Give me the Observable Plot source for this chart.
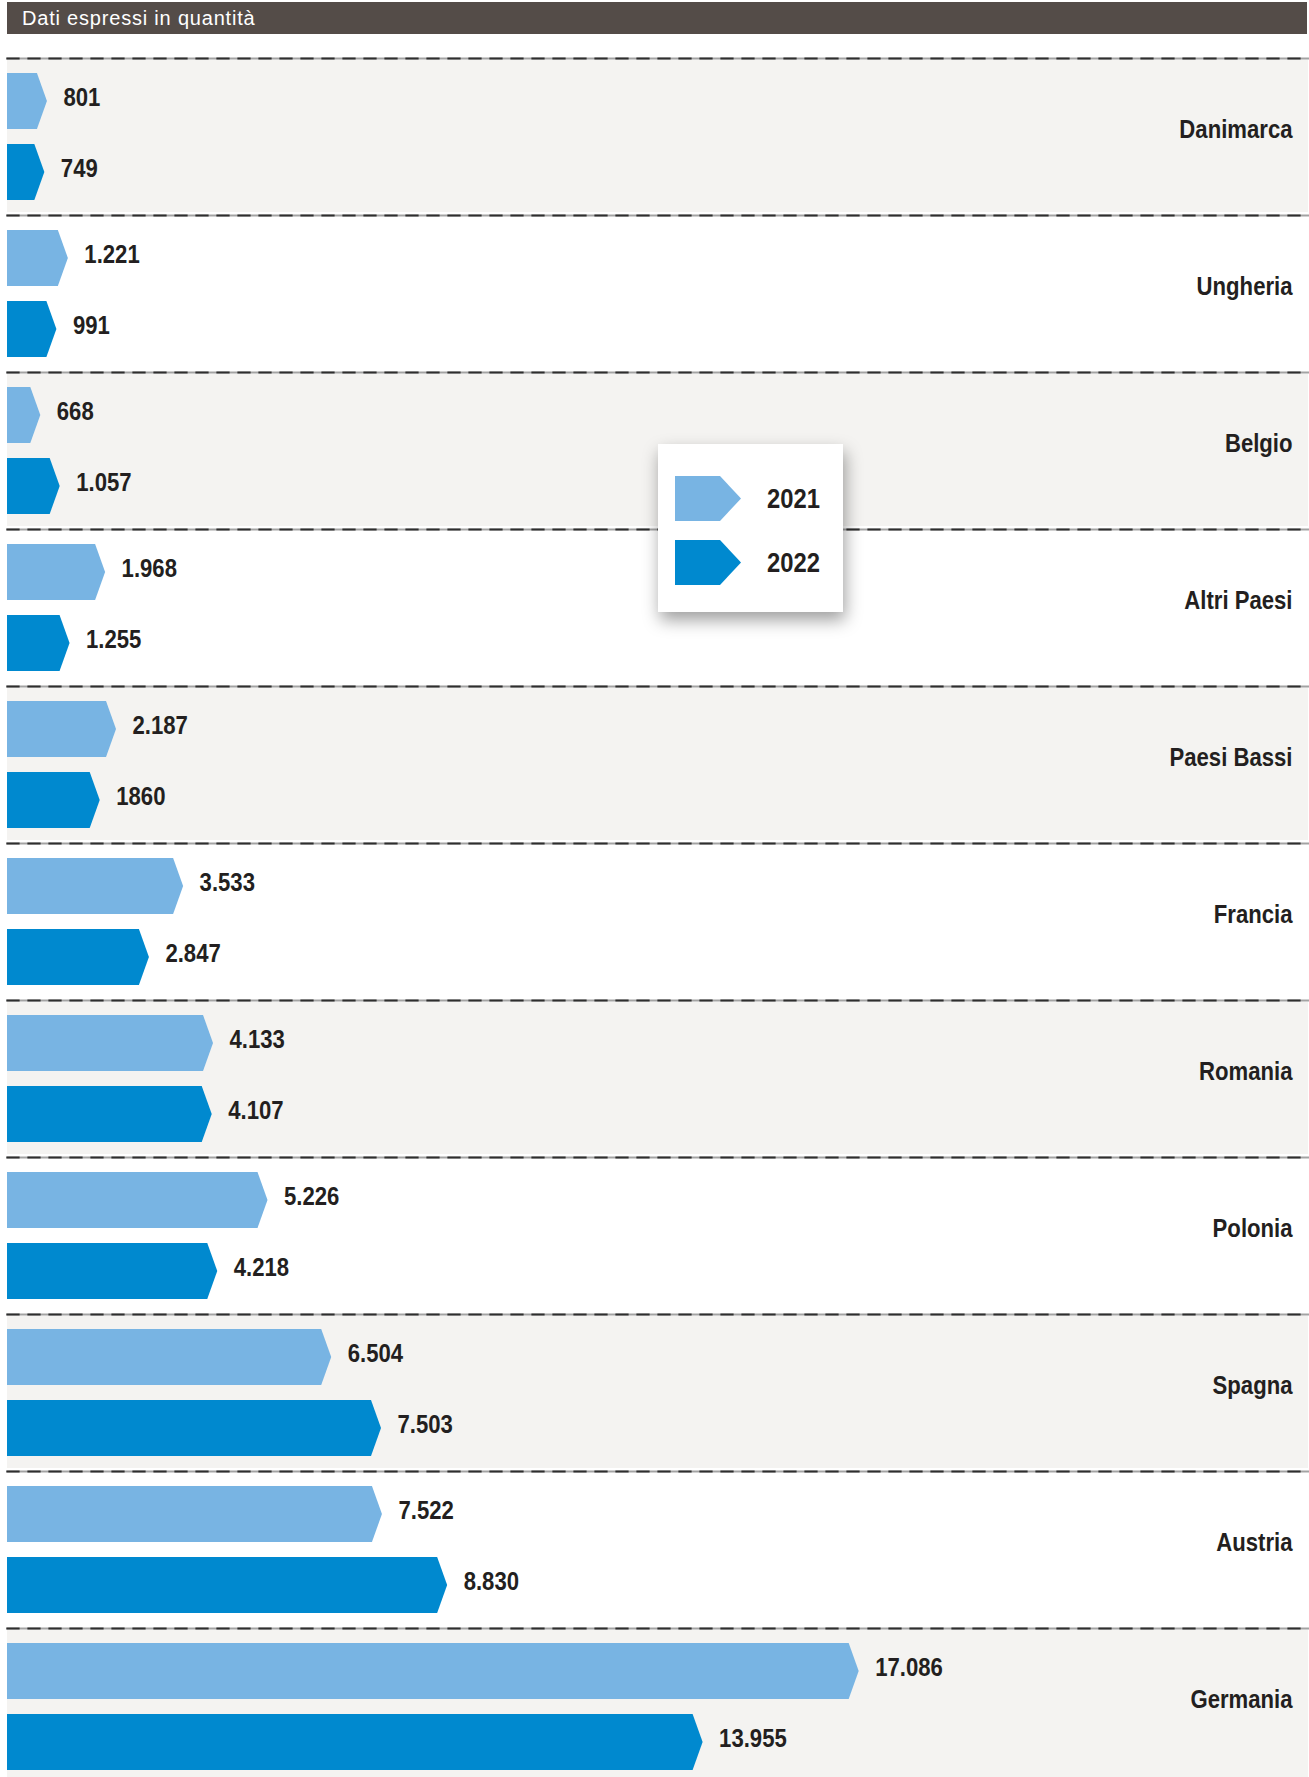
<!DOCTYPE html>
<html>
<head>
<meta charset="utf-8">
<script src="https://cdn.jsdelivr.net/npm/d3@7"></script>
<script src="https://cdn.jsdelivr.net/npm/@observablehq/plot@0.6"></script>
<style>
  html, body { margin: 0; padding: 0; background: #fff; overflow: hidden; }
  #wrap { position: relative; width: 1309px; height: 1777px; overflow: hidden; }
  #header { position: absolute; left: 7px; top: 2px; width: 1300px; height: 32px; background: #544c48; color: #fff;
            font-family: "Liberation Sans", Arial, Helvetica, sans-serif; font-size: 20px; letter-spacing: 0.8px;
            line-height: 32px; padding-left: 15px; box-sizing: border-box; white-space: nowrap; }
  #chart { position: absolute; left: 0; top: 34px; }
  #legend { position: absolute; left: 658px; top: 444px; width: 185px; height: 168px; background: #fff;
            box-shadow: 2px 8px 16px rgba(0,0,0,0.38); }
  .sw { position: absolute; left: 17px; width: 66px; height: 45px;
        clip-path: polygon(0 0, 68.2% 0, 100% 50%, 68.2% 100%, 0 100%); }
  .lab { position: absolute; left: 109px; height: 45px; line-height: 45px; color: #231f20; font-weight: bold;
         font-size: 28.5px; font-family: "Liberation Sans", Arial, sans-serif;
         transform: scaleX(0.835); transform-origin: 0 50%; white-space: nowrap; }
</style>
</head>
<body>
<div id="wrap">
  <div id="header"></div>
  <div id="chart"></div>
  <div id="legend"></div>
</div>
<script>
// ---- data ----
const title = "Dati espressi in quantità";
const countries = ["Danimarca", "Ungheria", "Belgio", "Altri Paesi", "Paesi Bassi", "Francia", "Romania", "Polonia", "Spagna", "Austria", "Germania"];
const years = ["2021", "2022"];
const values2021 = [801, 1221, 668, 1968, 2187, 3533, 4133, 5226, 6504, 7522, 17086];
const values2022 = [749, 991, 1057, 1255, 1860, 2847, 4107, 4218, 7503, 8830, 13955];
const labels2021 = ["801", "1.221", "668", "1.968", "2.187", "3.533", "4.133", "5.226", "6.504", "7.522", "17.086"];
const labels2022 = ["749", "991", "1.057", "1.255", "1860", "2.847", "4.107", "4.218", "7.503", "8.830", "13.955"];
const colors = ["#78b4e3", "#0089cf"];

// ---- styling / layout constants ----
const W = 1309;
const rowH = 157;
const topM = 24;
const TIP = 10;
const CONDENSE = 0.835;
const ink = "#231f20";
const bandGray = "#f4f3f1";
const font = "'Liberation Sans', Arial, Helvetica, sans-serif";

const table = [];
countries.forEach((c, i) => {
  table.push({country: c, year: years[0], value: values2021[i], label: labels2021[i]});
  table.push({country: c, year: years[1], value: values2022[i], label: labels2022[i]});
});
const grayRows = countries.filter((c, i) => i % 2 === 0);

function arrowRender(index, scales, values) {
  const X1 = values.x1, X2 = values.x2, Y = values.y, F = values.fill;
  const bwRaw = scales.y.bandwidth;
  const bw = typeof bwRaw === "function" ? bwRaw() : bwRaw;
  const g = d3.create("svg:g");
  for (const i of index) {
    const a = Math.min(X1[i], X2[i]), b = Math.max(X1[i], X2[i]);
    const y0 = Y[i];
    g.append("path")
      .attr("d", `M${a},${y0}H${b - TIP}L${b},${y0 + bw / 2}L${b - TIP},${y0 + bw}H${a}Z`)
      .attr("fill", F ? F[i] : colors[years.indexOf(table[i].year)]);
  }
  return g.node();
}

document.getElementById("header").textContent = title;

const chart = Plot.plot({
  width: W,
  height: topM + rowH * countries.length,
  marginTop: topM,
  marginBottom: 0,
  marginLeft: 7,
  marginRight: 1,
  style: {background: "transparent", overflow: "visible"},
  fy: {domain: countries, padding: 0, axis: null},
  y: {domain: years, padding: 0.211, axis: null},
  x: {domain: [0, 26100], axis: null},
  color: {domain: years, range: colors},
  marks: [
    Plot.rect(grayRows, {fy: d => d, fill: bandGray, insetTop: 1.5, insetBottom: 3}),
    Plot.frame({anchor: "top", stroke: "#a3a3a3", strokeWidth: 2.2}),
    Plot.frame({anchor: "top", stroke: "#2e2e2e", strokeWidth: 2.2, strokeDasharray: "11,10"}),
    Plot.barX(table, {fy: "country", y: "year", x1: () => 0, x2: "value", fill: "year", render: arrowRender}),
    Plot.text(table, {fy: "country", y: "year", x: "value", text: "label", dx: 16, dy: -4,
      textAnchor: "start", fontSize: 26.5, fontWeight: "bold", fontFamily: font, fill: ink}),
    Plot.text(countries, {fy: d => d, text: d => d, frameAnchor: "right", dx: -16, dy: -7,
      textAnchor: "end", fontSize: 26.5, fontWeight: "bold", fontFamily: font, fill: ink})
  ]
});
document.getElementById("chart").appendChild(chart);

// condensed look (Helvetica Condensed is not installed): squeeze each text around its anchor point
chart.querySelectorAll("text").forEach(t => {
  const x = +(t.getAttribute("x") || 0);
  const tr = t.getAttribute("transform") || "";
  t.setAttribute("transform", `${tr} translate(${x},0) scale(${CONDENSE},1) translate(${-x},0)`.trim());
});

// ---- legend ----
const legend = document.getElementById("legend");
years.forEach((yr, i) => {
  const top = 32 + i * 64;
  const sw = document.createElement("div");
  sw.className = "sw";
  sw.style.top = top + "px";
  sw.style.background = colors[i];
  legend.appendChild(sw);
  const lab = document.createElement("div");
  lab.className = "lab";
  lab.style.top = top + "px";
  lab.textContent = yr;
  legend.appendChild(lab);
});
</script>
</body>
</html>
